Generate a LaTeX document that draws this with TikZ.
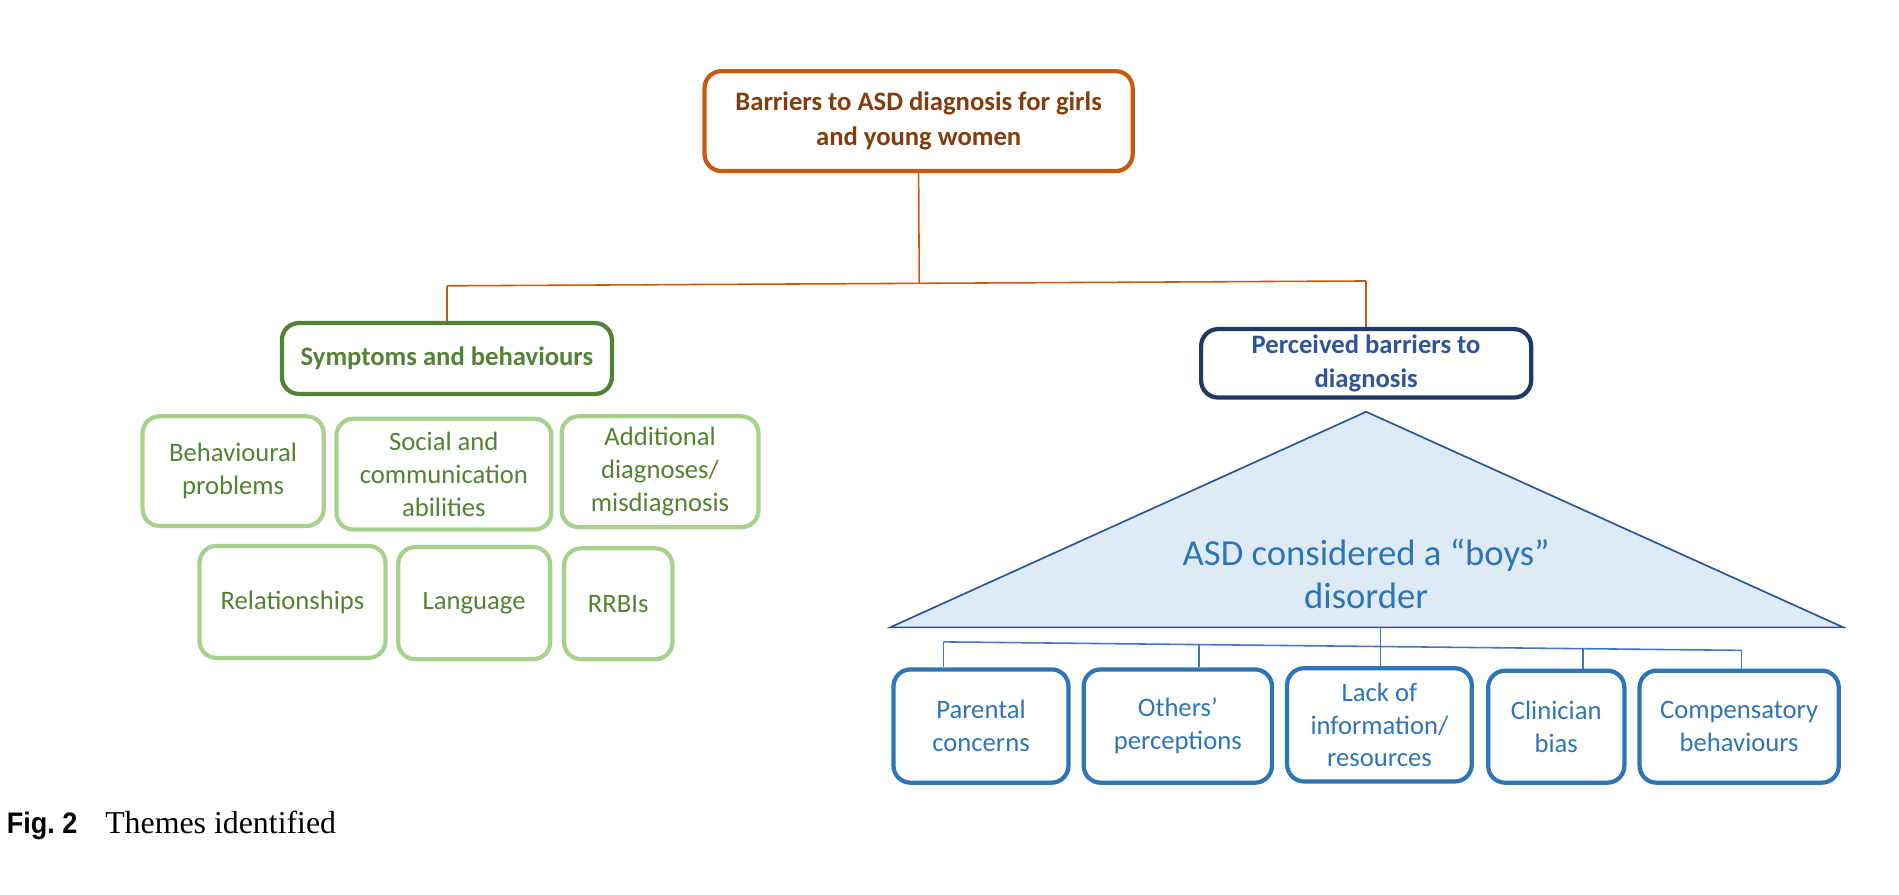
\documentclass[tikz,border=0pt]{standalone}
\usepackage{graphicx}
\usepackage{fontspec}
\setmainfont{Carlito}
\newfontfamily\capsans{Liberation Sans}
\newfontfamily\capserif{Liberation Serif}
\definecolor{orgB}{HTML}{C55A11}
\definecolor{orgT}{HTML}{843C0C}
\definecolor{dgreen}{HTML}{548235}
\definecolor{lgreen}{HTML}{A9D18E}
\definecolor{navy}{HTML}{1F3864}
\definecolor{navyT}{HTML}{2F5597}
\definecolor{bluebox}{HTML}{2E75B6}
\definecolor{trifill}{HTML}{DEEBF7}
\definecolor{bline}{HTML}{4472C4}
\tikzset{
  basebox/.style={rounded corners=14pt, line width=3.5pt, inner sep=0pt, align=center,
    font=\fontsize{22}{27}\selectfont, fill=white},
  topbox/.style={basebox, draw=orgB, text=orgT, font=\fontsize{22}{29}\selectfont\bfseries},
  sympbox/.style={basebox, draw=dgreen, text=dgreen, font=\fontsize{22}{27}\selectfont\bfseries},
  percbox/.style={basebox, draw=navy, text=navyT, font=\fontsize{22}{28}\selectfont\bfseries},
  lgbox/.style={basebox, draw=lgreen, text=dgreen},
  bbox/.style={basebox, draw=bluebox, text=bluebox, font=\fontsize{22}{27}\selectfont},
  oline/.style={draw=orgB, line width=1.3pt},
  bl/.style={draw=bline, line width=1.3pt},
  sz/.style 2 args={minimum width=#1pt-3.5pt, minimum height=#2pt-3.5pt}
}
\begin{document}
\begin{tikzpicture}[x=1pt,y=-1pt]
\useasboundingbox[fill=white] (0,0) rectangle (1568,738.2);

% top
\node[topbox, sz={357}{86}] (top) at (758.5,100) {Barriers to ASD diagnosis for girls\\and young women};
\node[sympbox, sz={276}{62}] (symp) at (369,296) {Symptoms and behaviours};
\node[percbox, sz={276}{60}] (perc) at (1128,300) {Perceived barriers to\\diagnosis};

\coordinate (jl) at (369,236);
\coordinate (jr) at (1128,232);
\coordinate (jm) at (759,234);
\draw[oline] (top.south) -- (jm);
\draw[oline] (jl) -- (jr);
\draw[oline] (jl) -- (symp.north);
\draw[oline] (jr) -- (perc.north);

% light green boxes
\node[lgbox, sz={153}{94}] (beh) at (192.5,389) {Behavioural\\problems};
\node[lgbox, sz={181}{95}] (soc) at (366.5,391.5) {Social and\\communication\\abilities};
\node[lgbox, sz={166}{95}] (add) at (545,389.5) {Additional\\diagnoses/\\misdiagnosis};
\node[lgbox, sz={157}{96}] (rel) at (241.5,497) {Relationships};
\node[lgbox, sz={129}{96}] (lan) at (391.5,498) {Language};
\node[lgbox, sz={93}{95}] (rrb) at (510.5,498.5) {RRBIs};

% triangle
\draw[fill=trifill, draw=navyT, line width=1.4pt, line join=miter] (1128,340) -- (1522,518) -- (735,518) -- cycle;
\node[text=bluebox, align=center, font=\fontsize{30.3}{36}\selectfont, inner sep=0pt] (tri) at (1128,474) {ASD considered a “boys”\\disorder};
\coordinate (tb) at (1140,518);

% blue boxes
\node[bbox, sz={148}{97}] (par) at (810,599.5) {Parental\\concerns};
\node[bbox, sz={159}{97}] (oth) at (972.5,599.5) {Others’\\perceptions};
\node[bbox, sz={156}{97}] (lack) at (1139,598.5) {Lack of\\information/\\resources};
\node[bbox, sz={116}{96}] (cli) at (1285,600) {Clinician\\bias};
\node[bbox, sz={168}{96}] (comp) at (1436,600) {Compensatory\\behaviours};

\coordinate (t1) at (779,530);
\coordinate (t2) at (990,532.2);
\coordinate (t4) at (1307,535.6);
\coordinate (t5) at (1438,537);
\draw[bl] (t1) -- (t5);
\draw[bl] (tb) -- (tb |- lack.north);
\draw[bl] (t1) -- (t1 |- par.north);
\draw[bl] (t2) -- (t2 |- oth.north);
\draw[bl] (t4) -- (t4 |- cli.north);
\draw[bl] (t5) -- (t5 |- comp.north);

% caption
\node[anchor=base west, inner sep=0pt] (cap) at (5.5,688) {\scalebox{0.91}[1]{\capsans\bfseries\fontsize{24.5}{28}\selectfont Fig.~2}\hspace{23pt}{\capserif\fontsize{26.3}{30}\selectfont Themes identified}};
\end{tikzpicture}
\end{document}
